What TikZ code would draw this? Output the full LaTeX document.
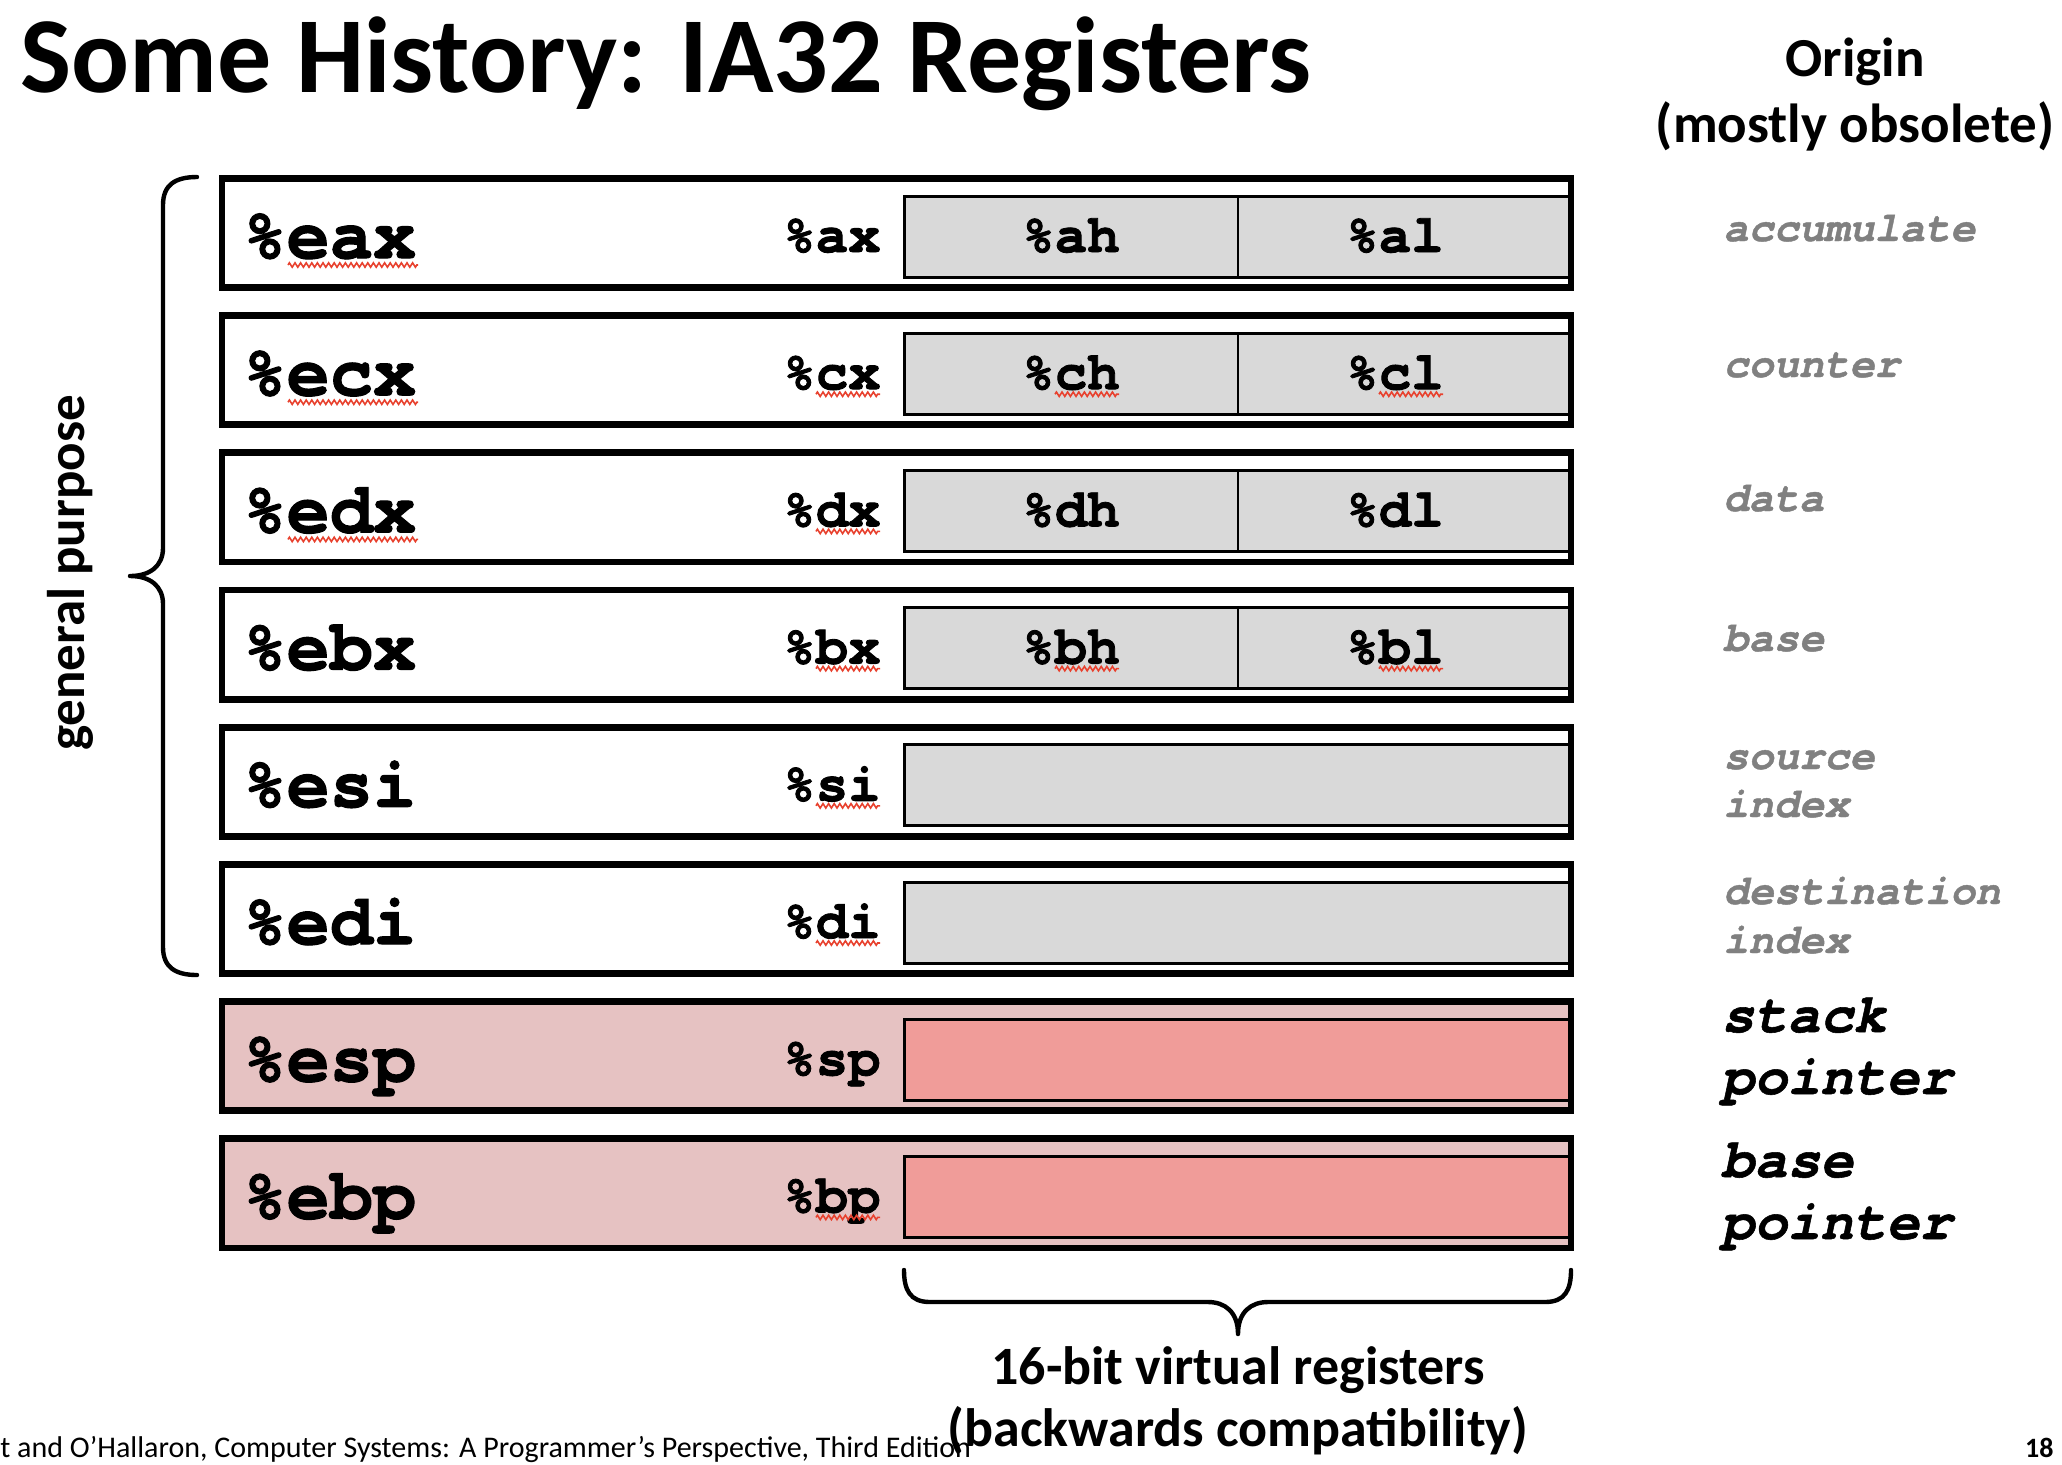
\documentclass[tikz,border=0pt]{standalone}
\usepackage{fontspec}
\setmainfont{Carlito}
\newfontfamily\cour{TeX Gyre Cursor}[BoldFeatures={FakeBold=1.6},BoldItalicFeatures={FakeBold=1}]
\usetikzlibrary{decorations.pathmorphing,calc}
\definecolor{grayfill}{HTML}{D9D9D9}
\definecolor{pinkfill}{HTML}{E6C2C2}
\definecolor{redfill}{HTML}{F09C99}
\definecolor{origgray}{HTML}{808080}
\definecolor{squig}{HTML}{E8412E}
\newcommand\squigunder[4]{\draw[squiggle] ($(#1.base west)+(#2,#4)$) -- ($(#1.base west)+(#3,#4)$);}
\begin{document}
\begin{tikzpicture}[x=0.5pt,y=-0.5pt,
  outerbox/.style={line width=3.4pt},
  innerbox/.style={draw=black, line width=1.5pt},
  biglbl/.style={anchor=base west, inner sep=0pt, font=\cour\bfseries\fontsize{36}{36}\selectfont},
  smlbl/.style={anchor=base east, inner sep=0pt, font=\cour\bfseries\fontsize{27}{27}\selectfont},
  partlbl/.style={anchor=base, inner sep=0pt, font=\cour\bfseries\fontsize{27}{27}\selectfont},
  origlbl/.style={anchor=base west, inner sep=0pt, text=origgray, font=\cour\bfseries\itshape\fontsize{21}{21}\selectfont},
  origblk/.style={anchor=base west, inner sep=0pt, font=\cour\bfseries\itshape\fontsize{27.5}{27.5}\selectfont},
  headlbl/.style={anchor=base, inner sep=0pt, font=\bfseries\fontsize{27.5}{27.5}\selectfont},
  bottomlbl/.style={anchor=base, inner sep=0pt, font=\bfseries\fontsize{27}{27}\selectfont},
  squiggle/.style={draw=squig, line width=0.8pt, decorate, decoration={zigzag, amplitude=1.1pt, segment length=2.8pt}},
  bracepath/.style={line width=2.2pt, line cap=round, line join=round},
]
\useasboundingbox (0,0) rectangle (2062,1464);
\fill[white] (0,0) rectangle (2062,1464);

% title
\node[anchor=base west, inner sep=0pt, font=\bfseries\fontsize{54}{54}\selectfont] (title) at (20,92) {Some History: IA32 Registers};

% header
\node[headlbl] (origin) at (1855,76) {Origin};
\node[headlbl] (obsolete) at (1855,142) {(mostly obsolete)};

% register rows
\foreach \i/\rb/\rs/\fc/\ic in {0/eax/ax/white/grayfill,1/ecx/cx/white/grayfill,2/edx/dx/white/grayfill,3/ebx/bx/white/grayfill,4/esi/si/white/grayfill,5/edi/di/white/grayfill,6/esp/sp/pinkfill/redfill,7/ebp/bp/pinkfill/redfill}{
  \pgfmathsetmacro\t{175+137.2*\i}
  \fill[\fc] (222,{\t+3.4}) rectangle (1571,{\t+112.6});
  \draw[innerbox, fill=\ic] (904,{\t+21}) rectangle (1571,{\t+102});
  \ifnum\i<4
    \draw[line width=1pt] (1238,{\t+21}) -- (1238,{\t+102});
  \fi
  \draw[outerbox] (222,{\t+3.4}) rectangle (1571,{\t+112.6});
  \node[biglbl] (big\rb) at (243,{\t+83}) {\%\rb};
  \node[smlbl] (sm\rs) at (881,{\t+77}) {\%\rs};
}

% 8-bit halves
\foreach \i/\h/\l in {0/ah/al,1/ch/cl,2/dh/dl,3/bh/bl}{
  \pgfmathsetmacro\t{175+137.2*\i}
  \node[partlbl] (p\h) at (1071,{\t+77}) {\%\h};
  \node[partlbl] (p\l) at (1395,{\t+77}) {\%\l};
}

% spell-check squiggles
\squigunder{bigeax}{45}{175}{7}
\squigunder{bigecx}{45}{175}{7}
\squigunder{bigedx}{45}{175}{7}
\squigunder{smcx}{33}{97}{5}
\squigunder{pch}{33}{97}{5}
\squigunder{pcl}{33}{97}{5}
\squigunder{smdx}{33}{97}{5}
\squigunder{smbx}{33}{97}{5}
\squigunder{pbh}{33}{97}{5}
\squigunder{pbl}{33}{97}{5}
\squigunder{smsi}{33}{97}{5}
\squigunder{smdi}{33}{97}{5}
\squigunder{smbp}{33}{97}{5}

% origins
\node[origlbl] (oacc) at (1723,241) {accumulate};
\node[origlbl] (ocnt) at (1723,377) {counter};
\node[origlbl] (odata) at (1723,511) {data};
\node[origlbl] (obase) at (1723,651) {base};
\node[origlbl] (osrc1) at (1723,769) {source};
\node[origlbl] (osrc2) at (1723,817) {index};
\node[origlbl] (odst1) at (1723,904) {destination};
\node[origlbl] (odst2) at (1723,953) {index};
\node[origblk] (osp1) at (1721,1032) {stack};
\node[origblk] (osp2) at (1721,1094) {pointer};
\node[origblk] (obp1) at (1721,1177) {base};
\node[origblk] (obp2) at (1721,1239) {pointer};

% left brace
\draw[bracepath] (197,177) .. controls (175,177) and (163,185) .. (163,205) -- (163,548)
  .. controls (163,566) and (150,576) .. (130,576)
  .. controls (150,576) and (163,586) .. (163,604) -- (163,947)
  .. controls (163,967) and (175,975) .. (197,975);
\node[rotate=90, anchor=base, inner sep=0pt, font=\bfseries\fontsize{26.5}{26.5}\selectfont] (gp) at (84,573) {general purpose};

% bottom brace
\draw[bracepath] (904,1270) .. controls (904,1290) and (910,1302) .. (930,1302) -- (1208,1302)
  .. controls (1225,1302) and (1238,1312) .. (1238,1334)
  .. controls (1238,1312) and (1251,1302) .. (1268,1302) -- (1545,1302)
  .. controls (1565,1302) and (1571,1290) .. (1571,1270);
\node[bottomlbl] (virt1) at (1238,1384) {16-bit virtual registers};
\node[bottomlbl] (virt2) at (1238,1446) {(backwards compatibility)};

% footer
\node[anchor=base west, inner sep=0pt, font=\fontsize{15}{15}\selectfont] (footer) at (0,1457) {t and O’Hallaron, Computer Systems: A Programmer’s Perspective, Third Edition};
\node[anchor=base east, inner sep=0pt, font=\bfseries\fontsize{14}{14}\selectfont] (pagenum) at (2054,1457) {18};
\end{tikzpicture}
\end{document}
